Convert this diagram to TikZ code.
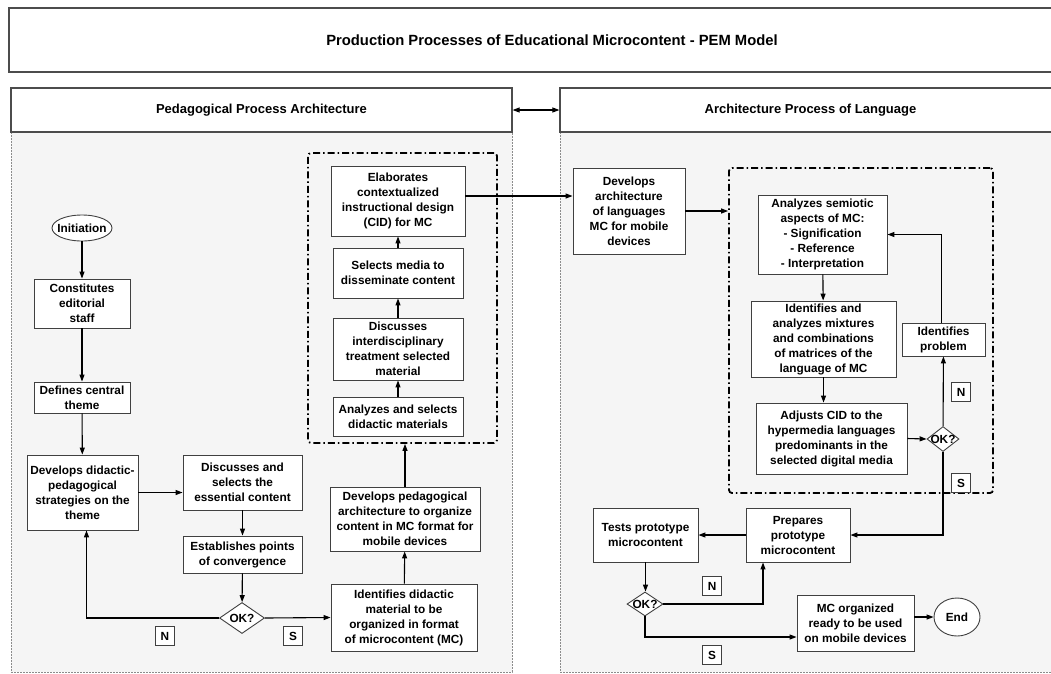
\documentclass[tikz,border=0pt]{standalone}
\usepackage{fontspec}
\setmainfont{Liberation Sans}
\usetikzlibrary{arrows.meta,shapes.geometric}

\begin{document}
\begin{tikzpicture}[x=1pt,y=1pt,yscale=-1,xscale=1,
  txt/.style={font=\bfseries\fontsize{11.8}{15}\selectfont, align=center},
  proc/.style={txt, draw=black!75, line width=0.9pt, fill=white, inner sep=1pt},
  startend/.style={txt, ellipse, draw=black!75, line width=0.9pt, fill=white, inner xsep=-4pt, inner ysep=1pt},
  decision/.style={txt, diamond, draw=black!75, line width=0.9pt, fill=white, inner xsep=-6pt, inner ysep=-4pt},
  answer/.style={txt, draw=black!75, line width=0.9pt, fill=white, minimum width=19, minimum height=19, inner sep=0pt},
  header/.style={draw=black!70, line width=1.2pt, fill=white, font=\bfseries\fontsize{13}{15}\selectfont},
  lane/.style={draw=black!45, line width=0.6pt, dash pattern={on 2pt off 1pt}, fill=black!4},
  group/.style={draw=black, line width=1.8pt, rounded corners=3pt, dash pattern={on 7pt off 3pt on 1.5pt off 3pt}},
  arr/.style={line width=1.1pt, -{Triangle[length=7pt,width=5pt]}}
]
\useasboundingbox (0,0) rectangle (1051,673);

%Shape: Title [id:title]
\draw (552,40) node [header, minimum width=1086, minimum height=64, font=\bfseries\fontsize{14.8}{16}\selectfont] (title) {Production Processes of Educational Microcontent - PEM Model};

%Shape: Lanes
\draw [lane] (11,132) rectangle (512,672);
\draw [lane] (560,132) rectangle (1061,672);
\draw (261.5,110) node [header, minimum width=501, minimum height=44] (hdrL) {Pedagogical Process Architecture};
\draw (810.5,110) node [header, minimum width=501, minimum height=44] (hdrR) {Architecture Process of Language};
\draw [line width=1.1pt, {Triangle[length=7pt,width=5pt]}-{Triangle[length=7pt,width=5pt]}] (hdrL.east) -- (hdrR.west);

%Shape: Dash-dot groups
\draw (402.5,298) node [group, minimum width=189, minimum height=290] (grpL) {};
\draw (861,330.5) node [group, minimum width=264, minimum height=325] (grpR) {};

% Pedagogical process
\draw (82,228) node [startend, minimum width=60, minimum height=26] (init) {Initiation};
\draw (82,303.5) node [proc, minimum width=96, minimum height=49] (staff) {Constitutes\\editorial\\staff};
\draw (82,397.5) node [proc, minimum width=96, minimum height=31] (theme) {Defines central\\theme};
\draw (82.5,492.5) node [proc, minimum width=111, minimum height=75] (strat) {Develops didactic-\\pedagogical\\strategies on the\\theme};
\draw (242.5,482.5) node [proc, minimum width=119, minimum height=55] (essential) {Discusses and\\selects the\\essential content};
\draw (242.5,554.5) node [proc, minimum width=119, minimum height=37] (points) {Establishes points\\of convergence};
\draw (242,618) node [decision, minimum width=45, minimum height=31] (ok1) {OK?};
\draw (165,636) node [answer] (n1) {N};
\draw (293,636) node [answer] (s1) {S};
\draw (404,617.5) node [proc, minimum width=146, minimum height=67] (ident) {Identifies didactic\\material to be\\organized in format\\of microcontent (MC)};
\draw (405,519) node [proc, minimum width=150, minimum height=64] (pedarch) {Develops pedagogical\\architecture to organize\\content in MC format for\\mobile devices};
\draw (398,416.5) node [proc, minimum width=130, minimum height=39] (didmat) {Analyzes and selects\\didactic materials};
\draw (398,349) node [proc, minimum width=130, minimum height=62] (interd) {Discusses\\interdisciplinary\\treatment selected\\material};
\draw (398,273) node [proc, minimum width=130, minimum height=50] (media) {Selects media to\\disseminate content};
\draw (398,201) node [proc, minimum width=134, minimum height=70] (cid) {Elaborates\\contextualized\\instructional design\\(CID) for  MC};

% Language process
\draw (629,211) node [proc, minimum width=112, minimum height=86] (langarch) {Develops\\architecture\\of languages\\MC for mobile\\devices};
\draw (822.5,234.5) node [proc, minimum width=129, minimum height=79] (semio) {Analyzes semiotic\\aspects of MC:\\- Signification\\- Reference\\- Interpretation};
\draw (823.5,339) node [proc, minimum width=145, minimum height=76] (mixt) {Identifies and\\analyzes mixtures\\and combinations\\of matrices of the\\language of MC};
\draw (831.5,438.5) node [proc, minimum width=151, minimum height=71] (adjust) {Adjusts CID to the\\hypermedia languages\\predominants in the\\selected digital media};
\draw (943,439) node [decision, minimum width=32, minimum height=25] (ok2) {OK?};
\draw (943.5,339.5) node [proc, minimum width=83, minimum height=33] (problem) {Identifies\\problem};
\draw (961,392) node [answer] (n2) {N};
\draw (961,483) node [answer] (s2) {S};
\draw (798,535) node [proc, minimum width=104, minimum height=54] (prep) {Prepares\\prototype\\microcontent};
\draw (645.5,535) node [proc, minimum width=105, minimum height=54] (tests) {Tests prototype\\microcontent};
\draw (645,604) node [decision, minimum width=36, minimum height=24] (ok3) {OK?};
\draw (712,586) node [answer] (n3) {N};
\draw (712,655) node [answer] (s3) {S};
\draw (855.5,623) node [proc, minimum width=117, minimum height=56] (mcready) {MC organized\\ready  to be used\\on mobile devices};
\draw (957,617) node [startend, minimum width=46, minimum height=38] (end) {End};

%Straight Lines
\draw [arr] (init) -- (staff);
\draw [arr] (staff) -- (theme);
\draw [arr] (theme) -- (strat);
\draw [arr] (strat.east) -- (strat.east -| essential.west);
\draw [arr] (essential) -- (points);
\draw [arr] (points) -- (ok1);
\draw [arr] (ok1.west) -| ([xshift=4]strat.south);
\draw [arr] (ok1.east) -- (ident.west);
\draw [arr] (ident) -- (pedarch);
\draw [arr] (pedarch.north) -- (pedarch.north |- grpL.south);
\draw [arr] (didmat) -- (interd);
\draw [arr] (interd) -- (media);
\draw [arr] (media) -- (cid);
\draw [arr] ([yshift=-5]cid.east) -- ([yshift=-5]cid.east -| langarch.west);
\draw [arr] (langarch.east) -- (langarch.east -| grpR.west);
\draw [arr] (semio) -- (mixt);
\draw [arr] (mixt.south) -- (mixt.south |- adjust.north);
\draw [arr] (adjust.east) -- (ok2.west);
\draw [arr] (ok2) -- (problem);
\draw [arr] ([xshift=-2]problem.north) |- (semio.east);
\draw [arr] (ok2.south) |- (prep.east);
\draw [arr] (prep) -- (tests);
\draw [arr] (tests.south) -- (tests.south |- ok3.north);
\draw [arr] (ok3.east) -| ([xshift=-35]prep.south);
\draw [arr] (ok3.south) |- ([yshift=14]mcready.west);
\draw [arr] (mcready.east |- end.west) -- (end.west);

\end{tikzpicture}
\end{document}
